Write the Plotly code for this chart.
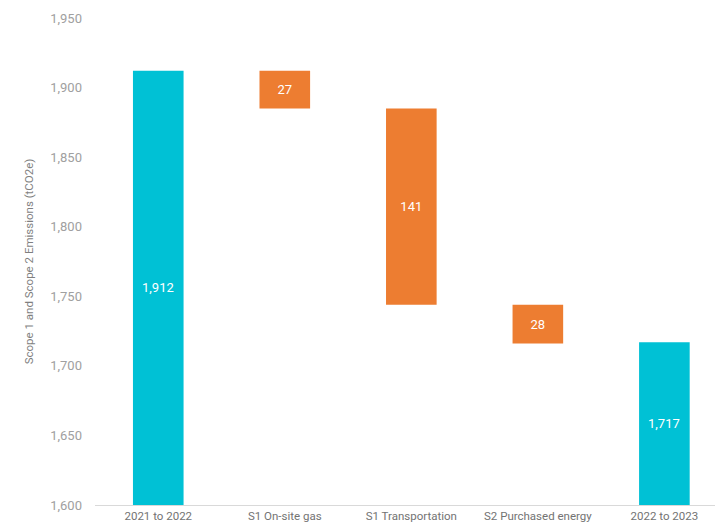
import plotly.graph_objects as go

categories = ["2021 to 2022", "S1 On-site gas", "S1 Transportation", "S2 Purchased energy", "2022 to 2023"]
measures = ["absolute", "relative", "relative", "relative", "absolute"]
values = [1912, -27, -141, -28, 1717]
labels = ["1,912", "27", "141", "28", "1,717"]

Y_MIN, Y_MAX = 1600, 1950
TEAL = "#00C1D5"
ORANGE = "#ED7D31"

# totals' labels are drawn as annotations (their bars start below the visible range)
bar_text = [("" if m == "absolute" else t) for m, t in zip(measures, labels)]

fig = go.Figure(go.Waterfall(
    x=categories,
    measure=measures,
    y=values,
    text=bar_text,
    textposition="inside",
    insidetextanchor="middle",
    textfont=dict(color="white", size=13, family="Roboto"),
    totals=dict(marker=dict(color=TEAL)),
    decreasing=dict(marker=dict(color=ORANGE)),
    increasing=dict(marker=dict(color=ORANGE)),
    connector=dict(visible=False),
    hoverinfo="skip",
))

for cat, m, v, t in zip(categories, measures, values, labels):
    if m == "absolute":
        fig.add_annotation(x=cat, y=(Y_MIN + v) / 2, text=t, showarrow=False,
                           font=dict(color="white", size=13, family="Roboto"))

fig.update_layout(
    width=715, height=529,
    margin=dict(l=95, r=0, t=18, b=24),
    paper_bgcolor="white", plot_bgcolor="white",
    showlegend=False,
    waterfallgap=0.6,
    font=dict(family="Roboto", color="#808080"),
    xaxis=dict(
        range=[-0.5, 4.4],
        showgrid=False, showline=True, linecolor="#D9D9D9", linewidth=1,
        tickfont=dict(size=11.5, color="#737373"),
        ticks="", zeroline=False,
    ),
    yaxis=dict(
        range=[Y_MIN, Y_MAX], dtick=50, tickformat=",",
        showgrid=False, showline=False, zeroline=False,
        tickfont=dict(size=13, color="#A0A0A0"),
        ticklabelstandoff=12,
        title=dict(text="Scope 1 and Scope 2 Emissions (tCO2e)", font=dict(size=11.5, color="#7F7F7F"), standoff=14),
    ),
)

fig.write_html("out.html")
